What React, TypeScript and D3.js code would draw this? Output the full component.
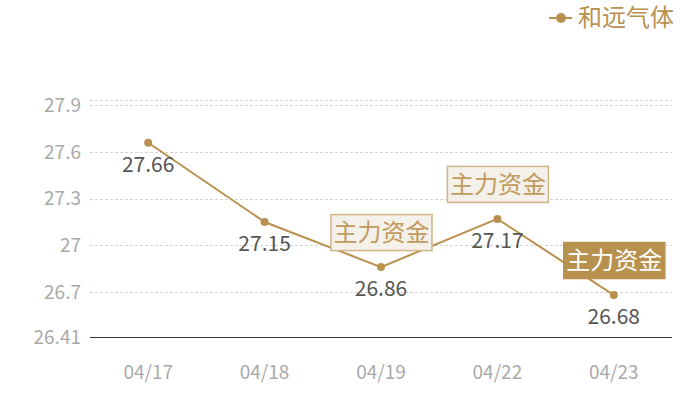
import { useEffect, useRef } from "react";
import * as d3 from "d3";

const dates = ["04/17", "04/18", "04/19", "04/22", "04/23"];
const prices = [27.66, 27.15, 26.86, 27.17, 26.68];
const yTicks = [26.41, 26.7, 27, 27.3, 27.6, 27.9];
const yTickLabels = ["26.41", "26.7", "27", "27.3", "27.6", "27.9"];
const yMax = 27.935;
const markDates = ["04/19", "04/22", "04/23"];
const markFilled = [false, false, true];
const markText = "主力资金";
const seriesName = "和远气体";

const GOLD = "#b8914f";
const FONT = "'Noto Sans CJK SC', 'Noto Sans', sans-serif";

export default function App() {
  const svgRef = useRef<SVGSVGElement>(null);

  useEffect(() => {
    if (!svgRef.current) return;
    const svg = d3.select(svgRef.current);
    svg.selectAll("*").remove();

    const left = 90;
    const right = 672;
    const top = 100;
    const bottom = 337;

    const x = d3.scaleBand<string>().domain(dates).range([left, right]);
    const cx = (d: string) => (x(d) as number) + x.bandwidth() / 2;
    const y = d3.scaleLinear().domain([yTicks[0], yMax]).range([bottom, top]);

    // grid lines
    const gridVals = [...yTicks.slice(1), yMax];
    svg
      .selectAll("line.grid")
      .data(gridVals)
      .enter()
      .append("line")
      .attr("x1", left)
      .attr("x2", right)
      .attr("y1", (d) => Math.round(y(d)) + 0.5)
      .attr("y2", (d) => Math.round(y(d)) + 0.5)
      .attr("stroke", "#d4d4d4")
      .attr("stroke-width", 1)
      .attr("stroke-dasharray", "3,2");

    // base axis
    svg
      .append("line")
      .attr("x1", left)
      .attr("x2", right)
      .attr("y1", bottom + 0.5)
      .attr("y2", bottom + 0.5)
      .attr("stroke", "#333")
      .attr("stroke-width", 1);

    // y labels
    svg
      .selectAll("text.ylab")
      .data(yTicks)
      .enter()
      .append("text")
      .attr("x", 81)
      .attr("y", (d) => y(d))
      .attr("dy", "0.35em")
      .attr("text-anchor", "end")
      .attr("font-family", FONT)
      .attr("font-size", 19)
      .attr("fill", "#aaaaaa")
      .text((_, i) => yTickLabels[i]);

    // x labels
    svg
      .selectAll("text.xlab")
      .data(dates)
      .enter()
      .append("text")
      .attr("x", cx)
      .attr("y", 372)
      .attr("dy", "0.35em")
      .attr("text-anchor", "middle")
      .attr("font-family", FONT)
      .attr("font-size", 19)
      .attr("fill", "#aaaaaa")
      .text((d) => d);

    const data = dates.map((d, i) => ({ date: d, value: prices[i] }));

    // line
    const line = d3
      .line<{ date: string; value: number }>()
      .x((d) => cx(d.date))
      .y((d) => y(d.value));
    svg
      .append("path")
      .datum(data)
      .attr("d", line)
      .attr("fill", "none")
      .attr("stroke", GOLD)
      .attr("stroke-width", 2);

    // points
    svg
      .selectAll("circle.pt")
      .data(data)
      .enter()
      .append("circle")
      .attr("cx", (d) => cx(d.date))
      .attr("cy", (d) => y(d.value))
      .attr("r", 4)
      .attr("fill", GOLD);

    // value labels
    svg
      .selectAll("text.val")
      .data(data)
      .enter()
      .append("text")
      .attr("x", (d) => cx(d.date))
      .attr("y", (d) => y(d.value) + 22)
      .attr("dy", "0.35em")
      .attr("text-anchor", "middle")
      .attr("font-family", FONT)
      .attr("font-size", 21)
      .attr("fill", "#555555")
      .text((d) => d.value.toFixed(2));

    // annotations
    markDates.forEach((md, i) => {
      const v = prices[dates.indexOf(md)];
      const px = cx(md);
      const py = y(v);
      const w = 101;
      const h = 36;
      const bx = px - w / 2;
      const by = py - 17 - h;
      const filled = markFilled[i];
      svg
        .append("rect")
        .attr("x", bx + 0.5)
        .attr("y", by + 0.5)
        .attr("width", w)
        .attr("height", h)
        .attr("fill", filled ? GOLD : "#f4f0ea")
        .attr("stroke", filled ? GOLD : "#d2b487")
        .attr("stroke-width", 1.5);
      svg
        .append("text")
        .attr("x", px + 0.5)
        .attr("y", by + h / 2 + 1)
        .attr("dy", "0.35em")
        .attr("text-anchor", "middle")
        .attr("font-family", FONT)
        .attr("font-size", 24)
        .attr("fill", filled ? "#ffffff" : "#c29a5c")
        .text(markText);
    });

    // legend
    const lg = svg.append("g");
    lg.append("line")
      .attr("x1", 549)
      .attr("x2", 572)
      .attr("y1", 18)
      .attr("y2", 18)
      .attr("stroke", GOLD)
      .attr("stroke-width", 2);
    lg.append("circle").attr("cx", 561).attr("cy", 18).attr("r", 5).attr("fill", GOLD);
    lg.append("text")
      .attr("x", 578)
      .attr("y", 18)
      .attr("dy", "0.35em")
      .attr("font-family", FONT)
      .attr("font-size", 24)
      .attr("fill", GOLD)
      .text(seriesName);
  }, []);

  return (
    <svg
      ref={svgRef}
      width={700}
      height={400}
      style={{ position: "absolute", left: 0, top: 0, background: "#fff" }}
    ></svg>
  );
}
